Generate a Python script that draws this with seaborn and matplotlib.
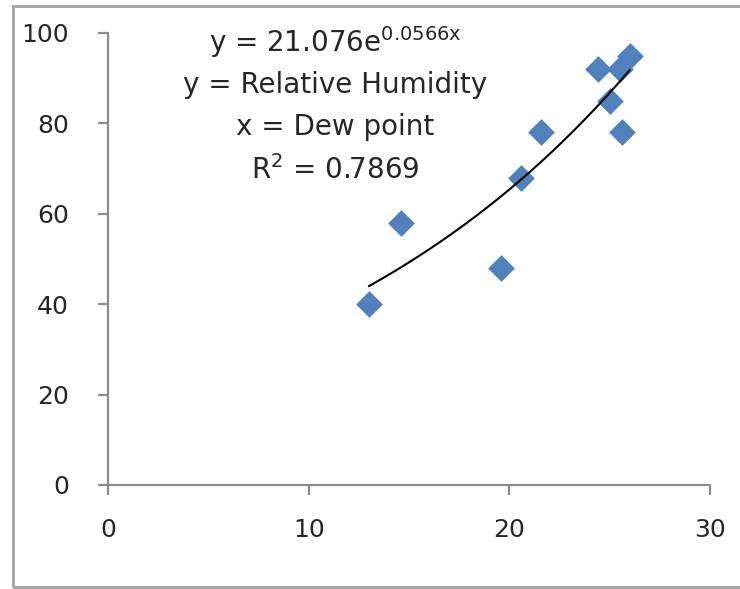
import numpy as np
import pandas as pd
import matplotlib
matplotlib.use("Agg")
import matplotlib.pyplot as plt
import seaborn as sns
from matplotlib.patches import Rectangle

# Data
dew_point = [13.0, 14.6, 19.6, 20.6, 21.6, 24.4, 25.0, 25.6, 25.5, 26.0]
rel_humidity = [40, 58, 48, 68, 78, 92, 85, 78, 92, 95]
fit_a = 21.076
fit_b = 0.0566
r_squared = 0.7869
x_ticks = [0, 10, 20, 30]
y_ticks = [0, 20, 40, 60, 80, 100]

sns.set_theme(style="white")
plt.rcParams['font.family'] = ['DejaVu Sans']

W, H = 740, 589
fig = plt.figure(figsize=(W / 100, H / 100), dpi=100)
ax = fig.add_axes([108 / W, 1 - 485 / H, (710 - 108) / W, (485 - 33) / H])

df = pd.DataFrame({"x": dew_point, "y": rel_humidity})
sns.scatterplot(data=df, x="x", y="y", marker="D", s=185, color="#4F81BD",
                linewidth=0, ax=ax, zorder=2)

xf = np.linspace(min(dew_point), max(dew_point), 200)
fit_df = pd.DataFrame({"x": xf, "y": fit_a * np.exp(fit_b * xf)})
sns.lineplot(data=fit_df, x="x", y="y", color="black", linewidth=1.5, ax=ax, zorder=3)

ax.set_xlim(0, 30)
ax.set_ylim(0, 100)
ax.set_xticks(x_ticks)
ax.set_yticks(y_ticks)
ax.set_xlabel("")
ax.set_ylabel("")
for side in ["top", "right"]:
    ax.spines[side].set_visible(False)
for side in ["left", "bottom"]:
    ax.spines[side].set_color("#8c8c8c")
    ax.spines[side].set_linewidth(1.6)
ax.tick_params(axis="both", which="major", direction="out", length=7, width=1.6,
               color="#8c8c8c", labelsize=18, labelcolor="#262626",
               bottom=True, left=True)
ax.tick_params(axis="x", pad=17)
ax.tick_params(axis="y", pad=21)
ax.patch.set_alpha(0)

txt_kw = dict(ha="center", va="center", fontsize=20, color="#262626")
cx = 335 / W
fig.text(cx, 1 - 42 / H, r"y = 21.076e$^{\mathregular{0.0566x}}$", **txt_kw)
fig.text(cx, 1 - 85 / H, "y = Relative Humidity", **txt_kw)
fig.text(cx, 1 - 127 / H, "x = Dew point", **txt_kw)
fig.text(cx, 1 - 170 / H, r"R$^{\mathregular{2}}$ = " + f"{r_squared}", **txt_kw)

fig.patches.append(Rectangle((13 / W, 1 - 587 / H), (760 - 13) / W, (587 - 6) / H,
                             transform=fig.transFigure, fill=False,
                             edgecolor="#a0a0a0", linewidth=2.0))

fig.savefig("out.png", dpi=100)
